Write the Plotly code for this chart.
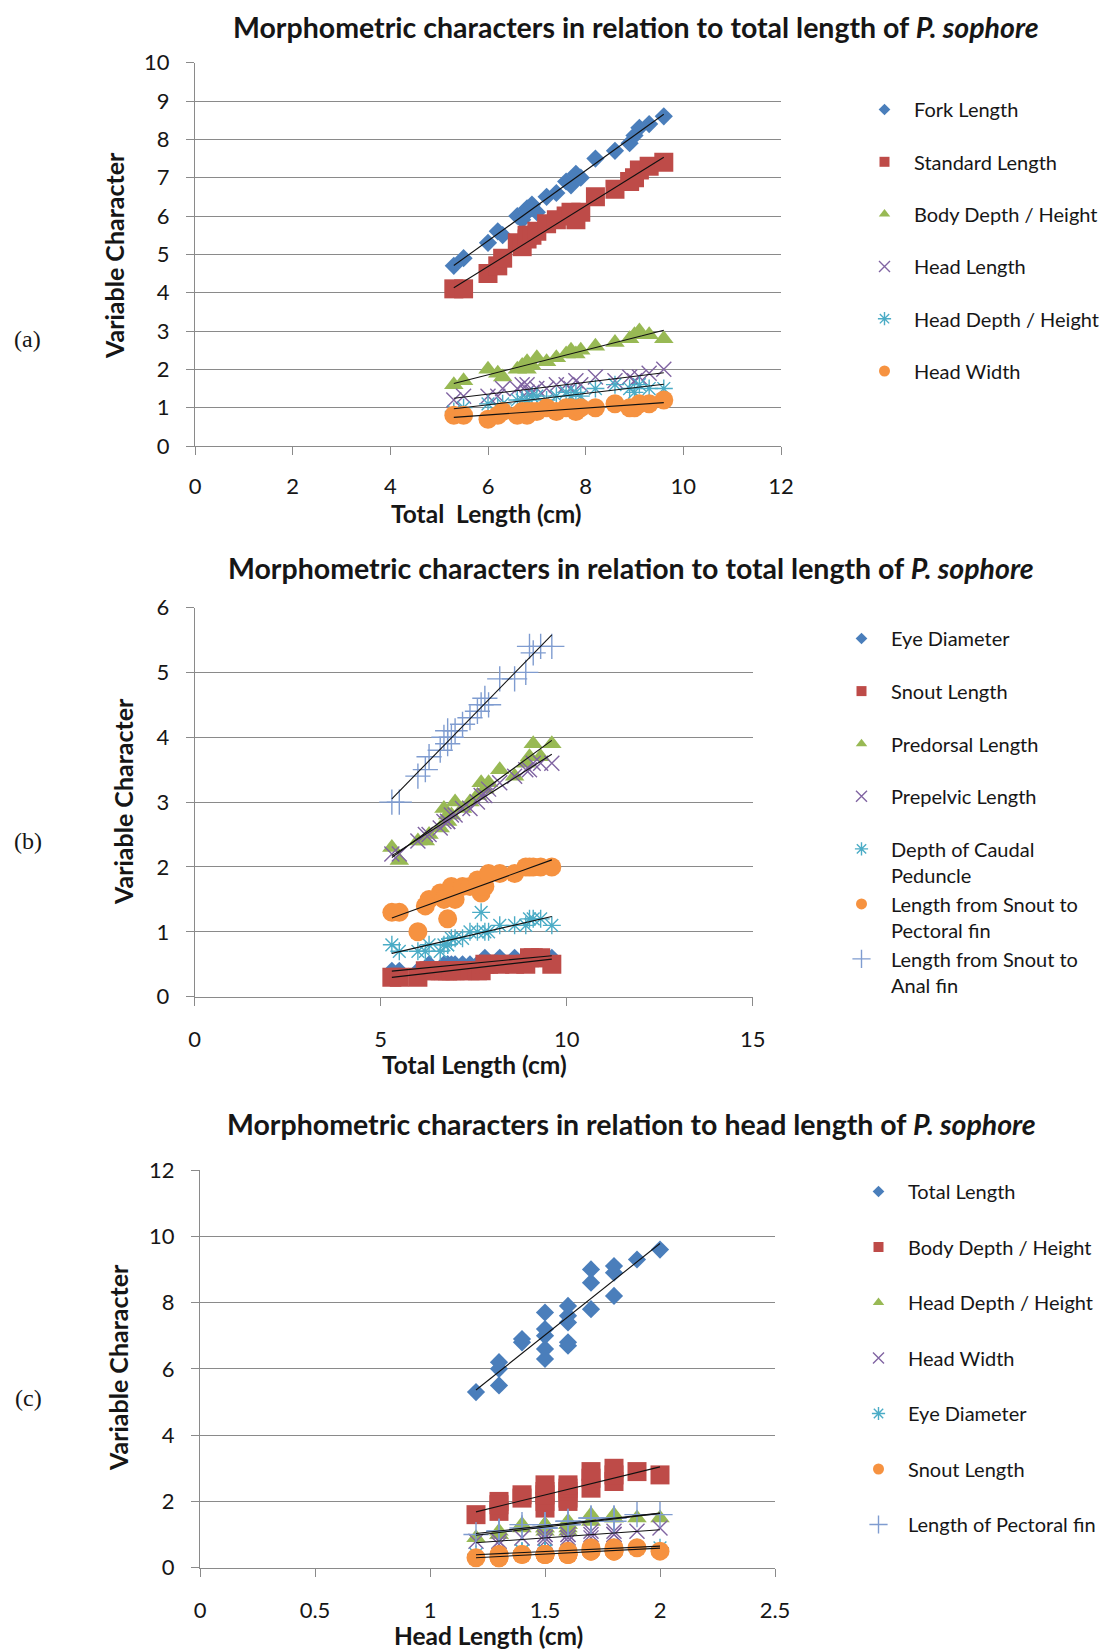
import numpy as np
import plotly.graph_objects as go

# ---------------- data ----------------
total_length = [5.3, 5.5, 6.0, 6.2, 6.3, 6.6, 6.7, 6.8, 6.8, 6.9, 7.0, 7.2,
                7.4, 7.6, 7.7, 7.8, 7.9, 8.2, 8.6, 8.9, 9.0, 9.1, 9.3, 9.6]
head_length = [1.2, 1.3, 1.3, 1.3, 1.5, 1.5, 1.6, 1.6, 1.4, 1.4, 1.5, 1.5,
               1.6, 1.6, 1.5, 1.7, 1.6, 1.8, 1.7, 1.8, 1.7, 1.8, 1.9, 2.0]
fork_length = [4.7, 4.9, 5.3, 5.6, 5.5, 6.0, 5.9, 6.2, 6.1, 6.3, 6.1, 6.5,
               6.6, 6.9, 6.8, 7.1, 7.0, 7.5, 7.7, 7.9, 8.1, 8.3, 8.4, 8.6]
standard_length = [4.1, 4.1, 4.5, 4.7, 4.9, 5.3, 5.2, 5.4, 5.5, 5.5, 5.6, 5.8,
                   5.9, 6.0, 6.1, 5.9, 6.1, 6.5, 6.7, 6.9, 7.0, 7.2, 7.3, 7.4]
body_depth = [1.6, 1.7, 2.0, 1.9, 1.8, 2.0, 2.1, 2.0, 2.2, 2.1, 2.3, 2.2,
              2.3, 2.4, 2.5, 2.4, 2.5, 2.6, 2.7, 2.8, 2.9, 3.0, 2.9, 2.8]
head_depth = [0.9, 1.0, 1.1, 1.0, 1.1, 1.2, 1.2, 1.1, 1.2, 1.3, 1.3, 1.2,
              1.3, 1.4, 1.3, 1.4, 1.3, 1.5, 1.6, 1.5, 1.4, 1.6, 1.5, 1.5]
head_width = [0.8, 0.8, 0.7, 0.8, 0.9, 0.8, 0.9, 0.8, 0.9, 0.9, 0.9, 1.0,
              0.9, 1.0, 1.0, 0.9, 1.0, 1.0, 1.1, 1.0, 1.0, 1.1, 1.1, 1.2]
eye_diameter = [0.4, 0.4, 0.4, 0.4, 0.5, 0.4, 0.5, 0.5, 0.5, 0.5, 0.5, 0.5,
                0.5, 0.5, 0.5, 0.6, 0.5, 0.6, 0.6, 0.6, 0.6, 0.6, 0.6, 0.6]
snout_length = [0.3, 0.3, 0.3, 0.4, 0.4, 0.4, 0.4, 0.4, 0.4, 0.4, 0.4, 0.4,
                0.4, 0.4, 0.4, 0.5, 0.5, 0.5, 0.5, 0.5, 0.6, 0.6, 0.6, 0.5]
predorsal_length = [2.3, 2.1, 2.4, 2.4, 2.5, 2.6, 2.9, 2.7, 2.8, 2.8, 3.0, 2.9,
                    3.0, 3.1, 3.3, 3.2, 3.3, 3.5, 3.4, 3.6, 3.7, 3.9, 3.7, 3.9]
prepelvic_length = [2.2, 2.2, 2.4, 2.5, 2.5, 2.6, 2.7, 2.7, 2.7, 2.8, 2.8, 2.9,
                    2.9, 3.0, 3.1, 3.1, 3.2, 3.3, 3.4, 3.5, 3.5, 3.6, 3.6, 3.6]
caudal_peduncle_depth = [0.8, 0.7, 0.7, 0.7, 0.8, 0.7, 0.8, 0.8, 0.8, 0.9, 0.9, 0.9,
                         1.0, 1.0, 1.3, 1.0, 1.0, 1.1, 1.1, 1.1, 1.2, 1.2, 1.2, 1.1]
snout_to_pectoral = [1.3, 1.3, 1.0, 1.4, 1.5, 1.6, 1.5, 1.2, 1.6, 1.7, 1.5, 1.7,
                     1.7, 1.8, 1.6, 1.7, 1.9, 1.9, 1.9, 2.0, 2.0, 2.0, 2.0, 2.0]
snout_to_anal = [3.0, 3.0, 3.4, 3.5, 3.7, 3.8, 4.0, 4.1, 3.9, 4.0, 4.1, 4.2,
                 4.3, 4.4, 4.5, 4.6, 4.5, 4.9, 4.9, 5.0, 5.4, 5.3, 5.4, 5.4]
pectoral_fin = [1.0, 1.1, 1.1, 1.1, 1.2, 1.2, 1.3, 1.3, 1.2, 1.3, 1.2, 1.3,
                1.3, 1.4, 1.3, 1.4, 1.4, 1.4, 1.5, 1.5, 1.5, 1.5, 1.6, 1.6]

ticks_a_x = [0, 2, 4, 6, 8, 10, 12]
ticks_a_y = [0, 1, 2, 3, 4, 5, 6, 7, 8, 9, 10]
ticks_b_x = [0, 5, 10, 15]
ticks_b_y = [0, 1, 2, 3, 4, 5, 6]
ticks_c_x = [0, 0.5, 1, 1.5, 2, 2.5]
ticks_c_y = [0, 2, 4, 6, 8, 10, 12]

# ---------------- styling ----------------
# the page body adds an 8px margin, so the figure is 8px smaller on each axis
OFF = 8
W, H = 1115 - OFF, 1652 - OFF
FONT = "Lato"
TXT = "#161616"
GRID = "#8a8a8a"
BLUE = "#4A7EBB"
RED = "#BE4B48"
GREEN = "#98B954"
PURPLE = "#8064A2"
CYAN = "#4BACC6"
ORANGE = "#F69240"
LBLUE = "#7F9CD0"

STY = {
    "diamond": dict(symbol="diamond", size=14, color=BLUE, line=dict(width=0), lsize=9),
    "square": dict(symbol="square", size=19, color=RED, line=dict(width=0), lsize=10),
    "triangle": dict(symbol="triangle-up", size=17, color=GREEN, line=dict(width=0), lsize=10),
    "x": dict(symbol="x-thin-open", size=15, color=PURPLE, line=dict(width=1.4, color=PURPLE), lsize=11),
    "asterisk": dict(symbol="asterisk-open", size=15, color=CYAN, line=dict(width=1.4, color=CYAN), lsize=11),
    "circle": dict(symbol="circle", size=19, color=ORANGE, line=dict(width=0), lsize=11),
    "cross": dict(symbol="cross-thin-open", size=18, color=LBLUE, line=dict(width=1.4, color=LBLUE), lsize=13),
}


def px(x):
    return (x - OFF) / W


def py(y):
    return 1 - (y - OFF) / H


fig = go.Figure()
trend_queue = []


def add_series(x, y, name, style, xa, ya, legend, group):
    s = dict(STY[style])
    lsize = s.pop("lsize")
    fig.add_trace(go.Scatter(x=x, y=y, mode="markers", marker=s, showlegend=False,
                             xaxis=xa, yaxis=ya, name=name, hoverinfo="x+y+name"))
    ls = dict(STY[style])
    ls.pop("lsize")
    ls["size"] = lsize
    fig.add_trace(go.Scatter(x=[None], y=[None], mode="markers", marker=ls, name=name,
                             legend=legend, legendgroup=group, showlegend=True,
                             xaxis=xa, yaxis=ya))
    trend_queue.append((x, y, xa, ya))


# Panel (a)
panel_a = [
    (fork_length, "Fork Length", "diamond"),
    (standard_length, "Standard Length", "square"),
    (body_depth, "Body Depth / Height", "triangle"),
    (head_length, "Head Length", "x"),
    (head_depth, "Head Depth / Height", "asterisk"),
    (head_width, "Head Width", "circle"),
]
for i, (vals, name, st) in enumerate(panel_a):
    add_series(total_length, vals, name, st, "x", "y", "legend", f"a{i}")

# Panel (b)
panel_b = [
    (eye_diameter, "Eye Diameter", "diamond", "b0"),
    (snout_length, "Snout Length", "square", "b1"),
    (predorsal_length, "Predorsal Length", "triangle", "b2"),
    (prepelvic_length, "Prepelvic Length", "x", "b3"),
    (caudal_peduncle_depth, "Depth of Caudal<br>Peduncle", "asterisk", "b4"),
    (snout_to_pectoral, "Length from Snout to<br>Pectoral fin", "circle", "b4"),
    (snout_to_anal, "Length from Snout to<br>Anal fin", "cross", "b4"),
]
for vals, name, st, grp in panel_b:
    add_series(total_length, vals, name, st, "x2", "y2", "legend2", grp)

# Panel (c)
panel_c = [
    (total_length, "Total Length", "diamond"),
    (body_depth, "Body Depth / Height", "square"),
    (head_depth, "Head Depth / Height", "triangle"),
    (head_width, "Head Width", "x"),
    (eye_diameter, "Eye Diameter", "asterisk"),
    (snout_length, "Snout Length", "circle"),
    (pectoral_fin, "Length of Pectoral fin", "cross"),
]
for i, (vals, name, st) in enumerate(panel_c):
    add_series(head_length, vals, name, st, "x3", "y3", "legend3", f"c{i}")

# linear trend lines (least squares), drawn over the markers
for x, y, xa, ya in trend_queue:
    xv = np.asarray(x, dtype=float)
    yv = np.asarray(y, dtype=float)
    m, b = np.polyfit(xv, yv, 1)
    xs = np.array([xv.min(), xv.max()])
    fig.add_trace(go.Scatter(x=xs, y=m * xs + b, mode="lines",
                             line=dict(color="#111111", width=1.1),
                             showlegend=False, hoverinfo="skip", xaxis=xa, yaxis=ya))

# ---------------- axes ----------------
def xax(dom, rng, tv, anchor, standoff=15):
    return dict(domain=dom, range=rng, tickvals=tv, anchor=anchor, automargin=False,
                showgrid=False, zeroline=False, showline=True, linecolor=GRID, linewidth=1.3,
                ticks="outside", ticklen=8, tickcolor=GRID, tickwidth=1.3,
                tickfont=dict(family=FONT, size=22, color=TXT), ticklabelstandoff=standoff)


def yax(dom, rng, tv, anchor):
    return dict(domain=dom, range=rng, tickvals=tv, anchor=anchor, automargin=False,
                showgrid=True, gridcolor=GRID, gridwidth=1.3, zeroline=False,
                showline=True, linecolor=GRID, linewidth=1.3,
                ticks="outside", ticklen=8, tickcolor=GRID, tickwidth=1.3,
                tickfont=dict(family=FONT, size=22, color=TXT), ticklabelstandoff=12)


fig.update_layout(
    template="none",
    width=W, height=H, margin=dict(l=0, r=0, t=0, b=0, pad=0, autoexpand=False),
    paper_bgcolor="white", plot_bgcolor="white",
    font=dict(family=FONT, color=TXT),
    xaxis=xax([px(195), px(781)], [0, 12], ticks_a_x, "y", standoff=12),
    yaxis=yax([py(446), py(62.7)], [0, 10], ticks_a_y, "x"),
    xaxis2=xax([px(194.7), px(752.7)], [0, 15], ticks_b_x, "y2"),
    yaxis2=yax([py(996.7), py(607.5)], [0, 6], ticks_b_y, "x2"),
    xaxis3=xax([px(200), px(775)], [0, 2.5], ticks_c_x, "y3"),
    yaxis3=yax([py(1567.7), py(1170)], [0, 12], ticks_c_y, "x3"),
)

leg_common = dict(xanchor="left", yanchor="top", bgcolor="rgba(0,0,0,0)", borderwidth=0,
                  font=dict(family=FONT, size=20, color=TXT), valign="top", itemwidth=49,
                  traceorder="grouped")
fig.update_layout(
    legend=dict(x=px(855), y=py(90), tracegroupgap=23.3, **leg_common),
    legend2=dict(x=px(832), y=py(619), tracegroupgap=23.6, **leg_common),
    legend3=dict(x=px(849), y=py(1172), tracegroupgap=26.5, **leg_common),
)

# ---------------- text ----------------
ann = []


def add_text(text, x, y, size, bold=False, angle=0, family=FONT, yanchor="middle", yabs=None):
    t = f"<b>{text}</b>" if bold else text
    ann.append(dict(text=t, x=px(x), y=py(y) if yabs is None else yabs,
                    xref="paper", yref="paper",
                    xanchor="center", yanchor=yanchor, showarrow=False, textangle=angle,
                    font=dict(family=family, size=size, color=TXT)))


title_tl = "Morphometric characters in relation to total length of <i>P. sophore</i>"
title_hl = "Morphometric characters in relation to head length of <i>P. sophore</i>"
add_text(title_tl, 636, 0, 28.5, bold=True, yanchor="top", yabs=1.0)
add_text(title_tl, 631, 568, 28.5, bold=True)
add_text(title_hl, 631, 1123.5, 28.5, bold=True)

add_text("Variable Character", 114, 256, 25, bold=True, angle=-90)
add_text("Variable Character", 123, 802, 25, bold=True, angle=-90)
add_text("Variable Character", 118, 1368, 25, bold=True, angle=-90)

add_text("Total\u00a0 Length (cm)", 486.5, 513, 24.5, bold=True)
add_text("Total Length (cm)", 474, 1064.5, 24.5, bold=True)
add_text("Head Length (cm)", 488, 0, 24.5, bold=True, yanchor="bottom", yabs=0.0)

add_text("(a)", 27, 339, 24, family="Liberation Serif")
add_text("(b)", 28, 841, 24, family="Liberation Serif")
add_text("(c)", 28, 1397.5, 24, family="Liberation Serif")

fig.update_layout(annotations=ann)

fig.write_html("out.html")
